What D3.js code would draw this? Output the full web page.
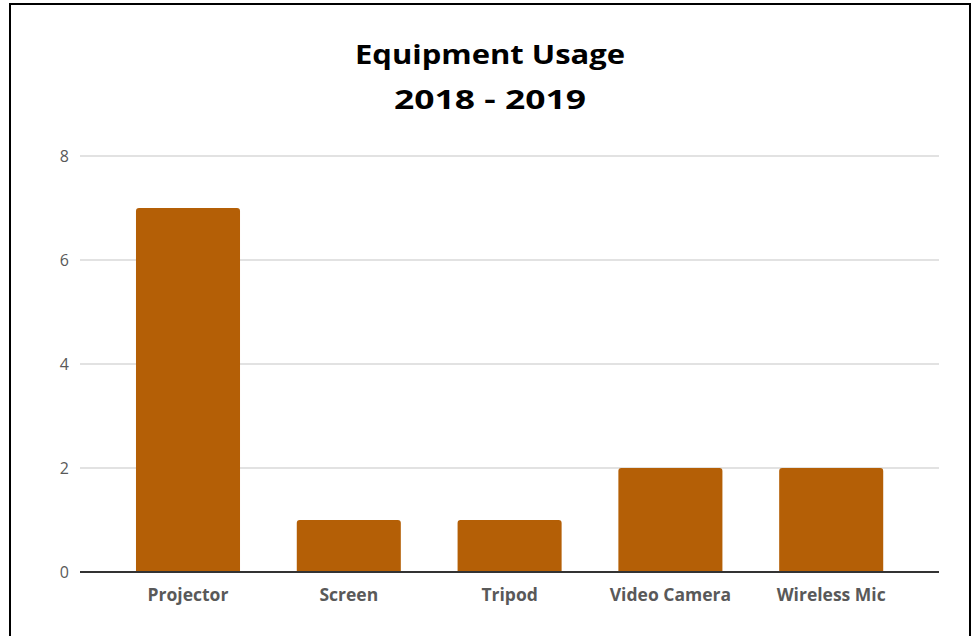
<!DOCTYPE html>
<html>
<head>
<meta charset="utf-8">
<script src="https://cdn.jsdelivr.net/npm/d3@7"></script>
<style>
  html, body { margin: 0; padding: 0; background: #fff; }
  svg { display: block; }
</style>
</head>
<body>
<script>
const categories = ["Projector", "Screen", "Tripod", "Video Camera", "Wireless Mic"];
const values = [7, 1, 1, 2, 2];
const yTicks = [0, 2, 4, 6, 8];
const titleLines = ["Equipment Usage", "2018 - 2019"];

const W = 977, H = 636;
const FONT = "'Open Sans', Lato, sans-serif";
const svg = d3.select("body").append("svg").attr("width", W).attr("height", H);

// frame
svg.append("rect").attr("x", 10).attr("y", 4).attr("width", 960).attr("height", 640)
  .attr("fill", "#fff").attr("stroke", "#000").attr("stroke-width", 2);

const gridX0 = 80, gridX1 = 939;
const y = d3.scaleLinear().domain([0, 8]).range([572, 156]);
const x = d3.scaleBand().domain(categories).range([107.6, 911.6]).paddingInner(0.353).paddingOuter(0.1765);

// title
const titleLens = [270, 192];
svg.append("g").selectAll("text").data(titleLines).join("text")
  .attr("x", 490).attr("y", (d, i) => 63.5 + i * 45)
  .attr("text-anchor", "middle")
  .attr("font-family", FONT)
  .attr("font-weight", "bold").attr("font-size", 27).attr("fill", "#000")
  .attr("textLength", (d, i) => titleLens[i]).attr("lengthAdjust", "spacingAndGlyphs")
  .text(d => d);

// gridlines
svg.append("g").selectAll("line").data(yTicks.filter(d => d > 0)).join("line")
  .attr("x1", gridX0).attr("x2", gridX1)
  .attr("y1", d => y(d)).attr("y2", d => y(d))
  .attr("stroke", "#d9d9d9").attr("stroke-width", 1.5);

// y tick labels
svg.append("g").selectAll("text").data(yTicks).join("text")
  .attr("x", 69).attr("y", d => y(d)).attr("dy", "0.35em")
  .attr("text-anchor", "end")
  .attr("font-family", FONT)
  .attr("font-size", 16).attr("fill", "#595959")
  .text(d => d);

// bars with rounded top corners
const r = 3;
function barPath(x0, w, yTop, yBot) {
  return `M${x0},${yBot} L${x0},${yTop + r} Q${x0},${yTop} ${x0 + r},${yTop} L${x0 + w - r},${yTop} Q${x0 + w},${yTop} ${x0 + w},${yTop + r} L${x0 + w},${yBot} Z`;
}
svg.append("g").selectAll("path").data(categories).join("path")
  .attr("d", (c, i) => barPath(x(c), x.bandwidth(), y(values[i]), y(0)))
  .attr("fill", "#b45f06");

// baseline
svg.append("line").attr("x1", gridX0).attr("x2", gridX1)
  .attr("y1", y(0)).attr("y2", y(0))
  .attr("stroke", "#333").attr("stroke-width", 2);

// x labels
svg.append("g").selectAll("text").data(categories).join("text")
  .attr("x", c => x(c) + x.bandwidth() / 2).attr("y", 601)
  .attr("text-anchor", "middle")
  .attr("font-family", FONT)
  .attr("font-weight", "bold").attr("font-size", 17.5).attr("fill", "#595959")
  .text(c => c);
</script>
</body>
</html>
